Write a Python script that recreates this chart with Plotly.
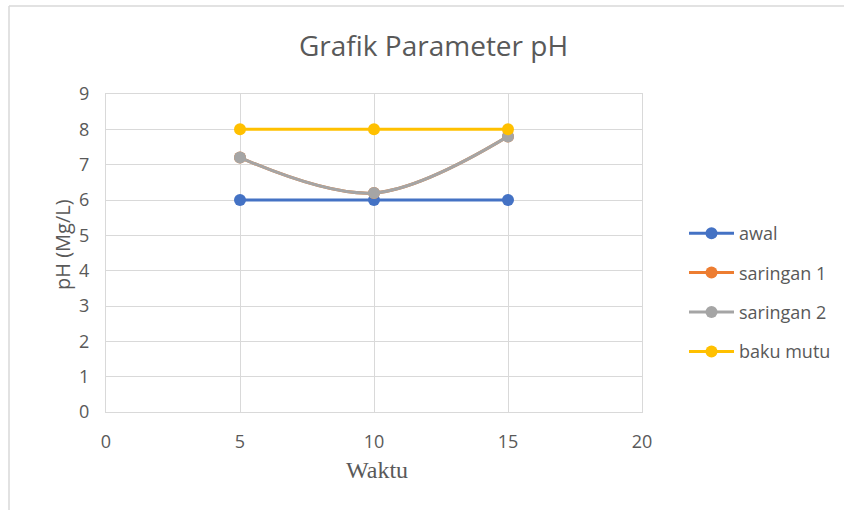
import plotly.graph_objects as go

waktu = [5, 10, 15]
awal = [6, 6, 6]
saringan_1 = [7.2, 6.2, 7.8]
saringan_2 = [7.2, 6.2, 7.8]
baku_mutu = [8, 8, 8]

x_ticks = [0, 5, 10, 15, 20]
y_ticks = [0, 1, 2, 3, 4, 5, 6, 7, 8, 9]

W, H = 844, 510
L, R, T, B = 106, 202, 94, 98
pw, ph = W - L - R, H - T - B

def px_x(p):
    return (p - L) / pw

def px_y(p):
    return (H - B - p) / ph

series = [
    ("awal", awal, "#4472C4", "linear"),
    ("saringan 1", saringan_1, "#ED7D31", "spline"),
    ("saringan 2", saringan_2, "#A5A5A5", "spline"),
    ("baku mutu", baku_mutu, "#FFC000", "linear"),
]

fig = go.Figure()
for i, (name, vals, col, shape) in enumerate(series):
    fig.add_trace(go.Scatter(
        x=waktu, y=vals, name=name, mode="lines+markers",
        line=dict(color=col, width=3, shape=shape, smoothing=1.0),
        marker=dict(color=col, size=12),
        legendgroup=str(i),
    ))

grid = "#D9D9D9"
sans = "Open Sans, Noto Sans, sans-serif"
tick_font = dict(family=sans, size=18, color="#595959")

fig.update_layout(
    width=W, height=H,
    margin=dict(l=L, r=R, t=T, b=B, autoexpand=False),
    paper_bgcolor="white", plot_bgcolor="white",
    showlegend=True,
    legend=dict(
        x=px_x(684), y=px_y(215), xanchor="left", yanchor="top",
        font=dict(family=sans, size=18, color="#595959"),
        itemwidth=45, tracegroupgap=13, bgcolor="rgba(0,0,0,0)",
        yref="paper",
    ),
    xaxis=dict(
        range=[0, 20], tickvals=x_ticks, showgrid=True, gridcolor=grid, gridwidth=1,
        showline=True, linecolor=grid, linewidth=1, mirror=True, zeroline=False,
        tickfont=tick_font, ticklabelstandoff=13,
    ),
    yaxis=dict(
        range=[0, 9], tickvals=y_ticks, showgrid=True, gridcolor=grid, gridwidth=1,
        showline=True, linecolor=grid, linewidth=1, mirror=True, zeroline=False,
        tickfont=tick_font, ticklabelstandoff=12,
    ),
    annotations=[
        dict(text="Grafik Parameter pH", xref="paper", yref="paper",
             x=px_x(433), y=px_y(45), xanchor="center", yanchor="middle",
             showarrow=False,
             font=dict(family=sans, size=28, color="#595959")),
        dict(text="pH (Mg/L)", xref="paper", yref="paper",
             x=px_x(62), y=px_y(245), xanchor="center", yanchor="middle",
             textangle=-90, showarrow=False,
             font=dict(family=sans, size=20, color="#595959")),
        dict(text="Waktu", xref="paper", yref="paper",
             x=px_x(377), y=px_y(470), xanchor="center", yanchor="middle",
             showarrow=False,
             font=dict(family="Liberation Serif, DejaVu Serif, serif", size=24, color="#595959")),
    ],
    shapes=[
        dict(type="line", xref="paper", yref="paper",
             x0=px_x(9), x1=px_x(844), y0=px_y(6), y1=px_y(6),
             line=dict(color="#D9D9D9", width=1.5)),
        dict(type="line", xref="paper", yref="paper",
             x0=px_x(9), x1=px_x(9), y0=px_y(6), y1=px_y(510),
             line=dict(color="#D9D9D9", width=1.5)),
    ],
)

fig.write_html("out.html", config={"displayModeBar": False},
               post_script="document.body.style.margin='0';")
